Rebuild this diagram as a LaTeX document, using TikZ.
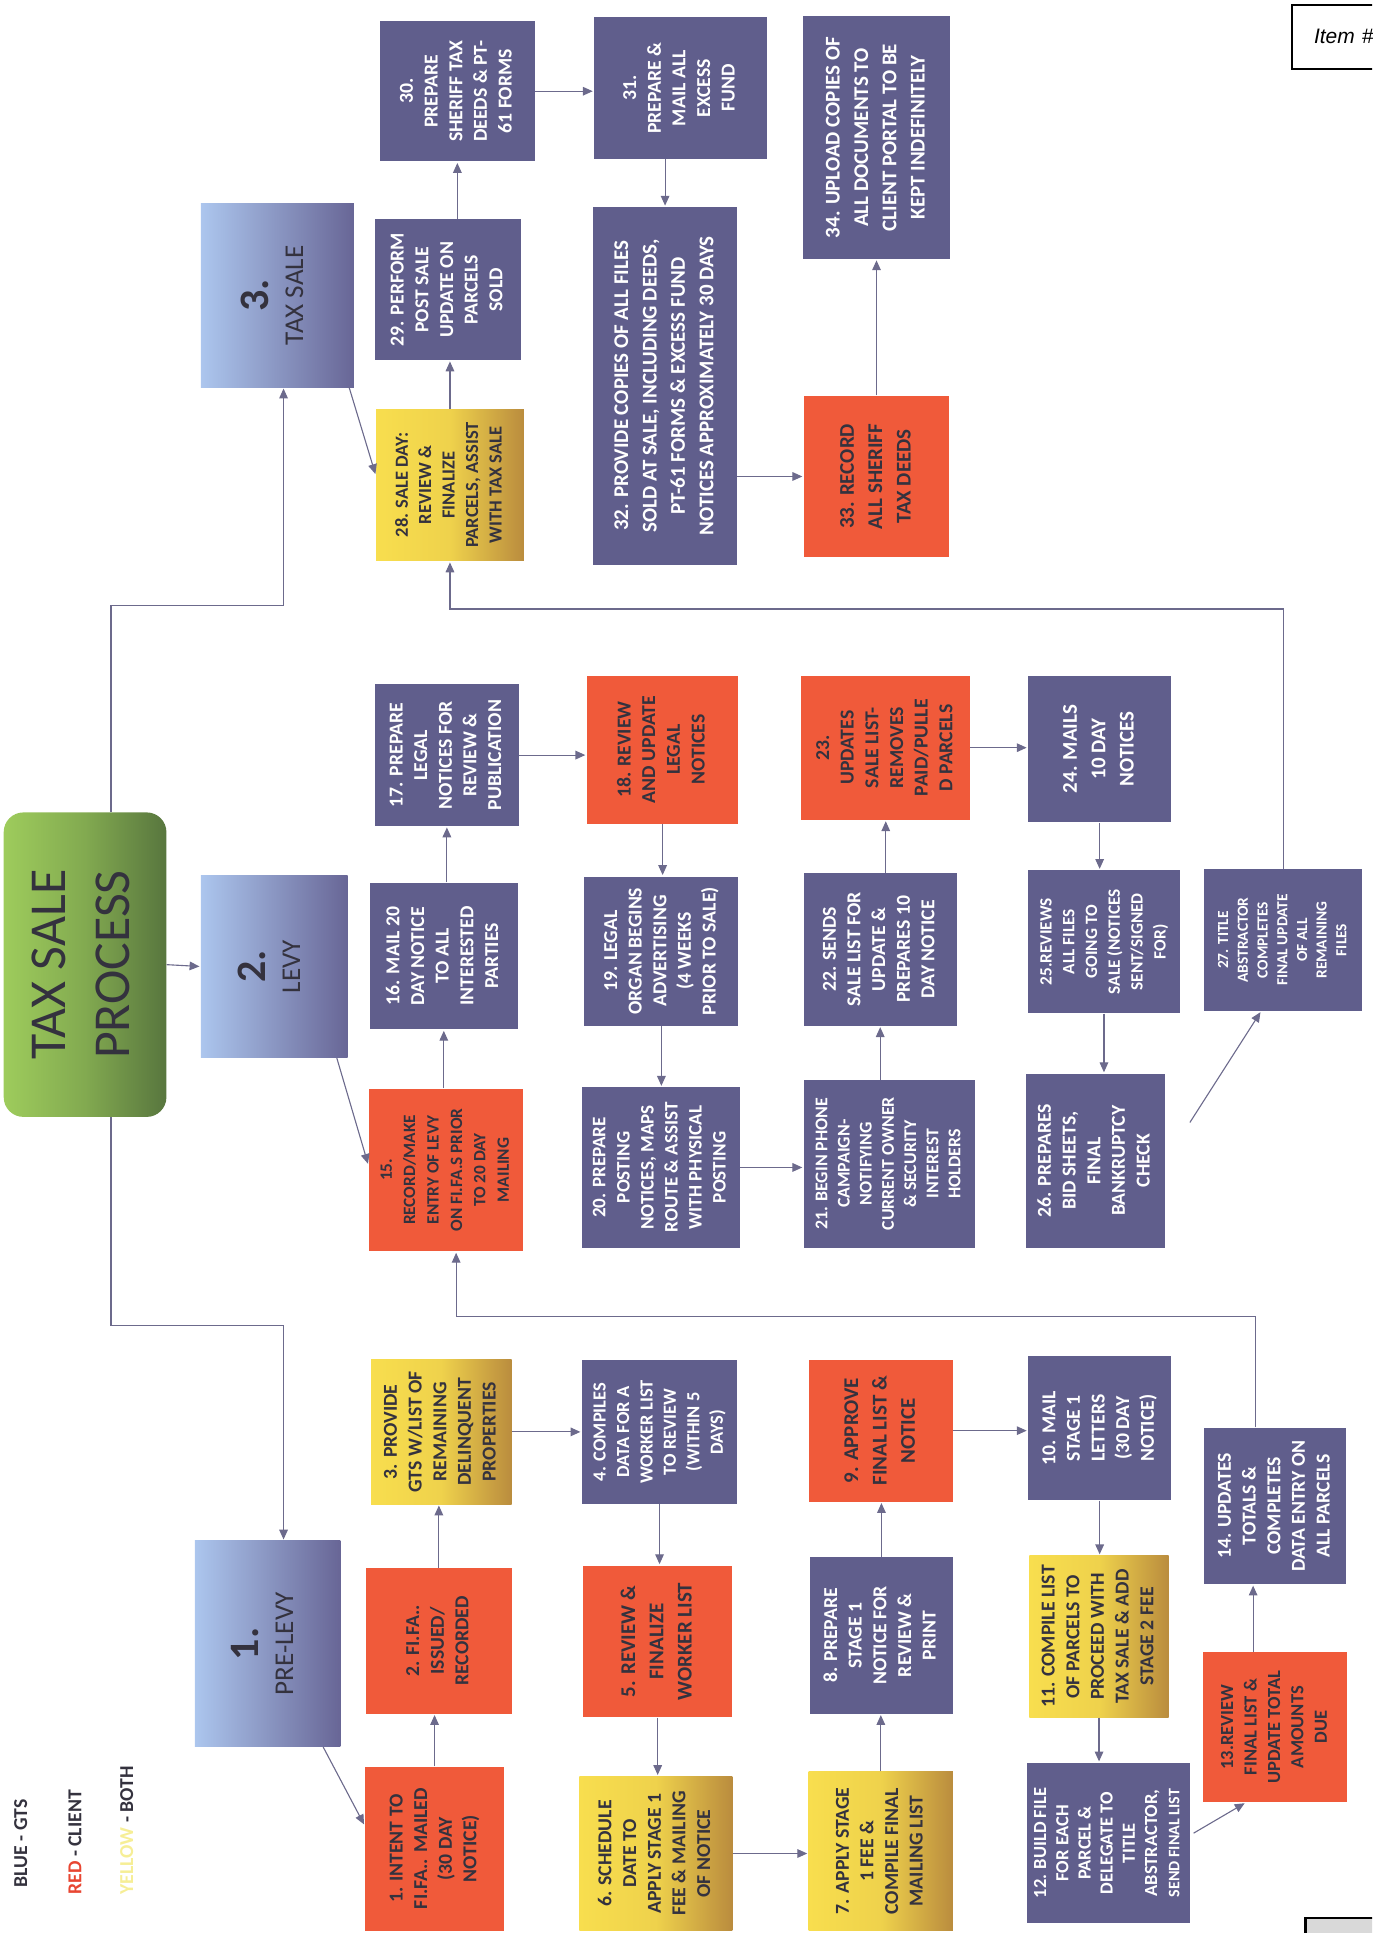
\documentclass[tikz,border=0pt]{standalone}
\usepackage{fontspec}
\setmainfont{Carlito}
\newfontfamily\itemfont{Liberation Sans}
\usepackage{graphicx}
\usetikzlibrary{arrows.meta,calc,positioning}

\definecolor{gtsblue}{RGB}{96,94,140}
\definecolor{clientred}{RGB}{240,90,58}
\definecolor{bothyellow}{RGB}{248,222,78}
\definecolor{bothgold}{RGB}{186,140,62}
\definecolor{stagelight}{RGB}{172,198,238}
\definecolor{stagedark}{RGB}{104,102,150}
\definecolor{mainlight}{RGB}{158,204,92}
\definecolor{maindark}{RGB}{88,118,62}
\definecolor{inkdark}{RGB}{52,50,62}
\definecolor{linkgray}{RGB}{108,106,140}
\definecolor{legendred}{RGB}{232,70,50}
\definecolor{legendyellow}{RGB}{246,238,150}

\newcommand{\vt}[1]{\rotatebox{90}{\begin{tabular}{@{}c@{}}#1\end{tabular}}}
\newcommand{\fs}[2]{\fontsize{#1}{#2}\selectfont}

\begin{document}
\begin{tikzpicture}[
                x=1pt,y=-1pt,
                taskbox/.style={rectangle,inner sep=0pt,minimum width=118pt,minimum height=120pt,
                    font=\fs{16}{20}\bfseries},
                gtsbox/.style={taskbox,fill=gtsblue,text=white},
                clientbox/.style={taskbox,fill=clientred,text=inkdark},
                bothbox/.style={taskbox,left color=bothyellow,right color=bothgold,
                    middle color=bothyellow!85!bothgold,text=inkdark},
                stagebox/.style={rectangle,inner sep=0pt,left color=stagelight,right color=stagedark,
                    text=inkdark,font=\fs{22}{28}},
                mainbox/.style={rectangle,rounded corners=16pt,inner sep=0pt,left color=mainlight,
                    right color=maindark,middle color=mainlight!60!maindark,text=inkdark,font=\fs{42}{52}},
                dims/.style 2 args={minimum width=#1pt,minimum height=#2pt},
                link/.style={draw=linkgray,line width=0.9pt,-{Triangle[length=8pt,width=7pt]},shorten >=1pt},
                legendtext/.style={inner sep=0pt,anchor=south,font=\fs{16}{20}\bfseries,text=inkdark}
            ]
                \useasboundingbox (0,0) rectangle (1113,1568);
                \clip (0,0) rectangle (1113,1568);

                \node[legendtext] (lgblue)   at (18,1531)  {\vt{BLUE - GTS}};
                \node[legendtext] (lgred)    at (62,1537)  {\vt{\textcolor{legendred}{RED} - CLIENT}};
                \node[legendtext] (lgyellow) at (104,1537) {\vt{\textcolor{legendyellow}{YELLOW} - BOTH}};

                \node[mainbox,dims={132}{247}] (main) at (69,782.5) {\vt{TAX SALE\\PROCESS}};

                \node[stagebox,dims={118}{167}] (pl) at (217,1333.5) {\vt{{\fs{34}{38}\bfseries 1.}\\PRE-LEVY}};
                \node[stagebox,dims={119}{148}] (lv) at (222.5,784)  {\vt{{\fs{34}{38}\bfseries 2.}\\LEVY}};
                \node[stagebox,dims={124}{149}] (ts) at (225,239.5)  {\vt{{\fs{34}{38}\bfseries 3.}\\TAX SALE}};

                \node[clientbox,dims={113}{133}] (b1)  at (352.5,1499.5) {\vt{1. INTENT TO\\FI.FA.. MAILED\\(30 DAY\\NOTICE)}};
                \node[clientbox,dims={118}{118}] (b2)  at (356,1331)     {\vt{2. FI.FA..\\ISSUED/\\RECORDED}};
                \node[bothbox,dims={114}{117}]   (b3)  at (358,1161.5)   {\vt{3. PROVIDE\\GTS W/LIST OF\\REMAINING\\DELINQUENT\\PROPERTIES}};
                \node[gtsbox,dims={126}{117},font=\fs{15}{19}\bfseries] (b4) at (535,1161.5)
                    {\vt{4. COMPILES\\DATA FOR A\\WORKER LIST\\TO REVIEW\\(WITHIN 5\\DAYS)}};
                \node[clientbox,dims={121}{123},font=\fs{17}{23}\bfseries] (b5) at (533.5,1331.5)
                    {\vt{5. REVIEW \&\\FINALIZE\\WORKER LIST}};
                \node[bothbox,dims={124}{125}]   (b6)  at (532,1503.5)   {\vt{6. SCHEDULE\\DATE TO\\APPLY STAGE 1\\FEE \& MAILING\\OF NOTICE}};
                \node[bothbox,dims={117}{129}]   (b7)  at (714.5,1501.5) {\vt{7. APPLY STAGE\\1 FEE \&\\COMPILE FINAL\\MAILING LIST}};
                \node[gtsbox,dims={116}{127}]    (b8)  at (715,1326.5)   {\vt{8. PREPARE\\STAGE 1\\NOTICE FOR\\REVIEW \&\\PRINT}};
                \node[clientbox,dims={117}{115},font=\fs{17}{23}\bfseries] (b9) at (714.5,1160.5)
                    {\vt{9. APPROVE\\FINAL LIST \&\\NOTICE}};
                \node[gtsbox,dims={116}{117}]    (b10) at (892,1158.5)   {\vt{10. MAIL\\STAGE 1\\LETTERS\\(30 DAY\\NOTICE)}};
                \node[bothbox,dims={113}{131}]   (b11) at (891.5,1327.5) {\vt{11. COMPILE LIST\\OF PARCELS TO\\PROCEED WITH\\TAX SALE \& ADD\\STAGE 2 FEE}};
                \node[gtsbox,dims={132}{130},font=\fs{15}{18}\bfseries] (b12) at (899,1495)
                    {\vt{12. BUILD FILE\\FOR EACH\\PARCEL \&\\DELEGATE TO\\TITLE\\ABSTRACTOR,\\{\fs{13}{18}SEND FINAL LIST}}};
                \node[clientbox,dims={117}{122},font=\fs{15}{19}\bfseries] (b13) at (1034.5,1401)
                    {\vt{13.REVIEW\\FINAL LIST \&\\UPDATE TOTAL\\AMOUNTS\\DUE}};
                \node[gtsbox,dims={115}{127}]    (b14) at (1034.5,1221.5) {\vt{14. UPDATES\\TOTALS \&\\COMPLETES\\DATA ENTRY ON\\ALL PARCELS}};

                \node[clientbox,dims={125}{132},font=\fs{14}{19}\bfseries] (b15) at (361.5,949)
                    {\vt{15.\\RECORD/MAKE\\ENTRY OF LEVY\\ON FI.FA.S PRIOR\\TO 20 DAY\\MAILING}};
                \node[gtsbox,dims={120}{119}]    (b16) at (360,775.5)   {\vt{16. MAIL 20\\DAY NOTICE\\TO ALL\\INTERESTED\\PARTIES}};
                \node[gtsbox,dims={117}{115}]    (b17) at (362.5,612.5) {\vt{17. PREPARE\\LEGAL\\NOTICES FOR\\REVIEW \&\\PUBLICATION}};
                \node[clientbox,dims={123}{120}] (b18) at (537.5,608)   {\vt{18. REVIEW\\AND UPDATE\\LEGAL\\NOTICES}};
                \node[gtsbox,dims={125}{121}]    (b19) at (536.5,771.5) {\vt{19. LEGAL\\ORGAN BEGINS\\ADVERTISING\\(4 WEEKS\\PRIOR TO SALE)}};
                \node[gtsbox,dims={128}{130},font=\fs{15.5}{19.5}\bfseries] (b20) at (536,947)
                    {\vt{20. PREPARE\\POSTING\\NOTICES, MAPS\\ROUTE \& ASSIST\\WITH PHYSICAL\\POSTING}};
                \node[gtsbox,dims={139}{136},font=\fs{14.5}{18}\bfseries] (b21) at (721.5,944)
                    {\vt{21. BEGIN PHONE\\CAMPAIGN-\\NOTIFYING\\CURRENT OWNER\\\& SECURITY\\INTEREST\\HOLDERS}};
                \node[gtsbox,dims={124}{124}]    (b22) at (714,770)     {\vt{22. SENDS\\SALE LIST FOR\\UPDATE \&\\PREPARES 10\\DAY NOTICE}};
                \node[clientbox,dims={137}{117}] (b23) at (718.5,606.5) {\vt{23.\\UPDATES\\SALE LIST-\\REMOVES\\PAID/PULLE\\D PARCELS}};
                \node[gtsbox,dims={116}{119},font=\fs{17}{23}\bfseries] (b24) at (892,607.5)
                    {\vt{24. MAILS\\10 DAY\\NOTICES}};
                \node[gtsbox,dims={123}{116},font=\fs{14}{18.5}\bfseries] (b25) at (895.5,764)
                    {\vt{25.REVIEWS\\ALL FILES\\GOING TO\\SALE (NOTICES\\SENT/SIGNED\\FOR)}};
                \node[gtsbox,dims={113}{141}]    (b26) at (888.5,941.5) {\vt{26. PREPARES\\BID SHEETS,\\FINAL\\BANKRUPTCY\\CHECK}};
                \node[gtsbox,dims={128}{115},font=\fs{12.5}{16}\bfseries] (b27) at (1041,762.5)
                    {\vt{27. TITLE\\ABSTRACTOR\\COMPLETES\\FINAL UPDATE\\OF ALL\\REMAINING\\FILES}};

                \node[bothbox,dims={120}{123},font=\fs{15}{19}\bfseries] (b28) at (365,393.5)
                    {\vt{28. SALE DAY:\\REVIEW \&\\FINALIZE\\PARCELS, ASSIST\\WITH TAX SALE}};
                \node[gtsbox,dims={119}{114}]    (b29) at (363.5,235)   {\vt{29. PERFORM\\POST SALE\\UPDATE ON\\PARCELS\\SOLD}};
                \node[gtsbox,dims={126}{114}]    (b30) at (371,74)      {\vt{30.\\PREPARE\\SHERIFF TAX\\DEEDS \& PT-\\61 FORMS}};
                \node[gtsbox,dims={140}{115}]    (b31) at (552,71.5)    {\vt{31.\\PREPARE \&\\MAIL ALL\\EXCESS\\FUND}};
                \node[gtsbox,dims={117}{290},font=\fs{17}{23}\bfseries] (b32) at (539.5,313)
                    {\vt{32. PROVIDE COPIES OF ALL FILES\\SOLD AT SALE, INCLUDING DEEDS,\\PT-61 FORMS \& EXCESS FUND\\NOTICES APPROXIMATELY 30 DAYS}};
                \node[clientbox,dims={118}{131},font=\fs{17}{23}\bfseries] (b33) at (711,386.5)
                    {\vt{33. RECORD\\ALL SHERIFF\\TAX DEEDS}};
                \node[gtsbox,dims={120}{197},font=\fs{17}{23}\bfseries] (b34) at (711,111.5)
                    {\vt{34. UPLOAD COPIES OF\\ALL DOCUMENTS TO\\CLIENT PORTAL TO BE\\KEPT INDEFINITELY}};

                \node[draw=black,line width=1.8pt,anchor=north west,minimum height=52pt,text width=80pt,
                    inner xsep=18pt,align=left,font=\itemfont\itshape\fs{17}{20}] (item) at (1047,3) {Item \#};
                \node[draw=black,line width=1.8pt,fill=gray!30,anchor=north west,
                    minimum width=80pt,minimum height=40pt] (corner) at (1058,1555) {};

                \coordinate (tsjoin) at (230,491);
                \coordinate (pljoin) at (230,1075);
                \coordinate (lvjoin) at (370,1068);
                \coordinate (tsback) at (365,494);

                \draw[link] ($(main.north)+(21,0)$) |- (tsjoin) -- (tsjoin |- ts.south);
                \draw[link] ($(main.south)+(21,0)$) |- (pljoin) -- (pljoin |- pl.north);
                \draw[link] (main.east) -- (lv.west);

                \draw[link] ($(pl.south east)+(-14,0)$) -- ($(b1.north west)+(0,48)$);
                \draw[link] (b1.north) -- (b1.north |- b2.south);
                \draw[link] (b2.north) -- (b2.north |- b3.south);
                \draw[link] (b3.east) -- (b3.east -| b4.west);
                \draw[link] (b4.south) -- (b4.south |- b5.north);
                \draw[link] (b5.south) -- (b5.south |- b6.north);
                \draw[link] (b6.east) -- (b6.east -| b7.west);
                \draw[link] (b7.north) -- (b7.north |- b8.south);
                \draw[link] (b8.north) -- (b8.north |- b9.south);
                \draw[link] (b9.east) -- (b9.east -| b10.west);
                \draw[link] (b10.south) -- (b10.south |- b11.north);
                \draw[link] (b11.south) -- (b11.south |- b12.north);
                \draw[link] ($(b12.east)+(3,-8)$) -- ($(b13.south)+(-24,0)$);
                \draw[link] ($(b13.north)+(-18,0)$) -- ($(b14.south)+(-18,0)$);
                \draw[link] ($(b14.north)+(-16,0)$) |- (lvjoin) -- (lvjoin |- b15.south);

                \draw[link] ($(lv.south east)+(-9,0)$) -- ($(b15.west)+(0,-4)$);
                \draw[link] (b15.north -| b16.south) -- (b16.south);
                \draw[link] (b16.north -| b17.south) -- (b17.south);
                \draw[link] (b17.east) -- (b17.east -| b18.west);
                \draw[link] (b18.south) -- (b18.south |- b19.north);
                \draw[link] (b19.south) -- (b19.south |- b20.north);
                \draw[link] (b20.east) -- (b20.east -| b21.west);
                \draw[link] (b21.north -| b22.south) -- (b22.south);
                \draw[link] (b22.north -| b23.south) -- (b23.south);
                \draw[link] (b23.east) -- (b23.east -| b24.west);
                \draw[link] (b24.south) -- (b24.south |- b25.north);
                \draw[link] (b25.south) -- (b25.south |- b26.north);
                \draw[link] ($(b26.east)+(20,-31)$) -- ($(b27.south)+(-18,0)$);
                \draw[link] (b27.north) |- (tsback) -- (tsback |- b28.south);

                \draw[link] ($(ts.south east)+(-4,0)$) -- ($(b28.west)+(0,-8)$);
                \draw[link] (b28.north) -- (b28.north |- b29.south);
                \draw[link] (b29.north -| b30.south) -- (b30.south);
                \draw[link] (b30.east) -- (b30.east -| b31.west);
                \draw[link] (b31.south -| b32.north) -- (b32.north);
                \draw[link] (b32.east |- b33.west) -- (b33.west);
                \draw[link] (b33.north) -- (b33.north |- b34.south);
            \end{tikzpicture}
\end{document}
